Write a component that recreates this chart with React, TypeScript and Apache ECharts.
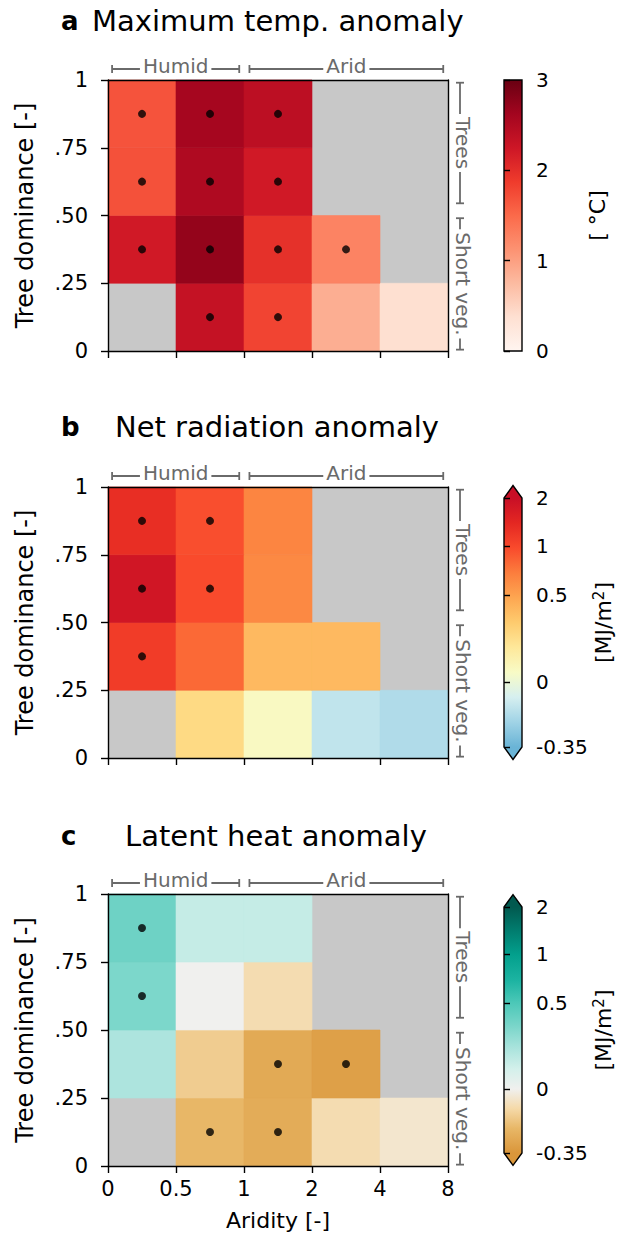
import React, { useEffect, useRef } from "react";
import * as echarts from "echarts";

// ---------- data ----------
const aridityLabels = ["0", "0.5", "1", "2", "4", "8"];
const treeLabels = ["0", ".25", ".50", ".75", "1"];

// rows bottom -> top (tree dominance 0-.25, .25-.50, .50-.75, .75-1), columns = aridity bins
const tmaxAnomaly = [
  [null, 2.33, 1.8, 0.87, 0.38],
  [2.22, 2.72, 1.98, 1.27, null],
  [1.7, 2.52, 2.22, null, null],
  [1.68, 2.6, 2.4, null, null],
];
const tmaxSignificant = [
  [0, 1, 1, 0, 0],
  [1, 1, 1, 1, 0],
  [1, 1, 1, 0, 0],
  [1, 1, 1, 0, 0],
];
const netRadAnomaly = [
  [null, 0.27, 0.07, -0.135, -0.175],
  [1.17, 0.83, 0.41, 0.41, null],
  [1.84, 0.98, 0.65, null, null],
  [1.38, 0.96, 0.68, null, null],
];
const netRadSignificant = [
  [0, 0, 0, 0, 0],
  [1, 0, 0, 0, 0],
  [1, 1, 0, 0, 0],
  [1, 1, 0, 0, 0],
];
const latentAnomaly = [
  [null, -0.215, -0.26, -0.094, -0.05],
  [0.23, -0.148, -0.27, -0.31, null],
  [0.36, 0.0, -0.094, null, null],
  [0.4, 0.157, 0.157, null, null],
];
const latentSignificant = [
  [0, 1, 1, 0, 0],
  [0, 0, 1, 1, 0],
  [1, 0, 0, 0, 0],
  [1, 0, 0, 0, 0],
];

const tmaxTicks = [0, 1, 2, 3];
const fluxTicks = [-0.35, 0, 0.5, 1, 2];
// colorbar norm anchors (value -> fraction along colorbar)
const fluxNormValues = [-0.35, 0, 0.5, 1, 2];
const fluxNormPos = [0, 0.26, 0.61, 0.807, 1];

const climateGroups = [
  { label: "Humid", from: 0.06, to: 1.93 },
  { label: "Arid", from: 2.08, to: 4.93 },
];
const vegGroups = [
  { label: "Trees", from: 0.545, to: 0.99 },
  { label: "Short veg.", from: 0.005, to: 0.49 },
];

// ---------- colormaps ----------
const redsStops: [number, string][] = [
  [0, "#fff5f0"], [0.125, "#fee0d2"], [0.25, "#fcbba1"], [0.375, "#fc9272"],
  [0.5, "#fb6a4a"], [0.625, "#ef3b2c"], [0.75, "#cd1626"], [0.875, "#a3051f"], [1, "#690012"],
];
const radStops: [number, string][] = [
  [0, "#6ab4d6"], [0.1, "#a0d3e6"], [0.2, "#d6eff0"], [0.3, "#f8fbc6"], [0.4, "#fee89a"],
  [0.5, "#fecb6e"], [0.6, "#fda651"], [0.7, "#fc7d3d"], [0.8, "#f94a2c"], [0.9, "#e42722"], [1, "#c80f26"],
];
const latStops: [number, string][] = [
  [0, "#da963a"], [0.1, "#e8b767"], [0.18, "#f5d9a8"], [0.26, "#f0f0ee"], [0.34, "#d4f0eb"],
  [0.43, "#a8e3dc"], [0.52, "#78d5c9"], [0.61, "#4cc8b8"], [0.7, "#1db4a2"], [0.805, "#03a08d"],
  [0.9, "#017e70"], [1, "#01594f"],
];

function hexToRgb(h: string) {
  const n = parseInt(h.slice(1), 16);
  return [(n >> 16) & 255, (n >> 8) & 255, n & 255];
}
function sampleCmap(stops: [number, string][], t: number) {
  t = Math.max(0, Math.min(1, t));
  for (let i = 0; i < stops.length - 1; i++) {
    const [a, ca] = stops[i];
    const [b, cb] = stops[i + 1];
    if (t >= a && t <= b) {
      const f = b === a ? 0 : (t - a) / (b - a);
      const A = hexToRgb(ca), B = hexToRgb(cb);
      const c = A.map((v, k) => Math.round(v + (B[k] - v) * f));
      return `rgb(${c[0]},${c[1]},${c[2]})`;
    }
  }
  return stops[stops.length - 1][1];
}
function cmapList(stops: [number, string][], n = 101) {
  return Array.from({ length: n }, (_, i) => sampleCmap(stops, i / (n - 1)));
}
function piecewise(xs: number[], ys: number[], v: number) {
  if (v <= xs[0]) return ys[0];
  for (let i = 0; i < xs.length - 1; i++) {
    if (v <= xs[i + 1]) return ys[i] + ((v - xs[i]) / (xs[i + 1] - xs[i])) * (ys[i + 1] - ys[i]);
  }
  return ys[ys.length - 1];
}
const tmaxNorm = (v: number) => Math.max(0, Math.min(1, v / 3));
const fluxNorm = (v: number) => piecewise(fluxNormValues, fluxNormPos, v);

const panels = [
  { letter: "a", title: "Maximum temp. anomaly", values: tmaxAnomaly, sig: tmaxSignificant, unit: "[ °C]", ticks: tmaxTicks, norm: tmaxNorm, stops: redsStops, extend: false },
  { letter: "b", title: "Net radiation anomaly", values: netRadAnomaly, sig: netRadSignificant, unit: "[MJ/m{sup|2}]", ticks: fluxTicks, norm: fluxNorm, stops: radStops, extend: true },
  { letter: "c", title: "Latent heat anomaly", values: latentAnomaly, sig: latentSignificant, unit: "[MJ/m{sup|2}]", ticks: fluxTicks, norm: fluxNorm, stops: latStops, extend: true },
];

// ---------- layout ----------
const FONT = "DejaVu Sans";
const PLOT_LEFT = 108;
const PLOT_W = 340;
const PLOT_TOPS = [80, 487, 894];
const PLOT_HS = [271, 271, 272];
const CB_LEFT = 504;
const CB_W = 18;
const CB_TOPS = [80, 498, 907];
const CB_HS = [271, 249, 246];
const TITLE_TOPS = [6, 412, 821];
const TITLE_LEFTS = [92, 115, 125];
const GREY = "#6a6a6a";

function buildOption() {
  const grid: any[] = [];
  const xAxis: any[] = [];
  const yAxis: any[] = [];
  const series: any[] = [];
  const visualMap: any[] = [];
  const title: any[] = [];
  const axisLineStyle = { color: "#000", width: 1.4 };

  panels.forEach((p, i) => {
    const last = i === panels.length - 1;
    grid.push({ left: PLOT_LEFT, top: PLOT_TOPS[i], width: PLOT_W, height: PLOT_HS[i], show: true, backgroundColor: "#c8c8c8", borderWidth: 0, outerBoundsMode: "none", containLabel: false });
    grid.push({ left: CB_LEFT, top: CB_TOPS[i], width: CB_W, height: CB_HS[i], show: false, outerBoundsMode: "none", containLabel: false });
    const gMain = 2 * i, gCb = 2 * i + 1;

    xAxis.push({
      type: "value", gridIndex: gMain, min: 0, max: 5, interval: 1, position: "bottom", z: 10,
      axisLine: { show: true, onZero: false, lineStyle: axisLineStyle },
      axisTick: { show: true, length: 7, lineStyle: axisLineStyle },
      axisLabel: { show: last, fontFamily: FONT, fontSize: 21, color: "#000", margin: 12, formatter: (v: number) => aridityLabels[Math.round(v)] },
      splitLine: { show: false },
      name: last ? "Aridity [-]" : "", nameLocation: "middle", nameGap: 43,
      nameTextStyle: { fontFamily: FONT, fontSize: 22, color: "#000" },
    });
    xAxis.push({
      type: "value", gridIndex: gMain, min: 0, max: 5, position: "top", z: 10,
      axisLine: { show: true, onZero: false, lineStyle: axisLineStyle },
      axisTick: { show: false }, axisLabel: { show: false }, splitLine: { show: false },
    });
    xAxis.push({ type: "value", gridIndex: gCb, min: 0, max: 1, show: false });

    yAxis.push({
      type: "value", gridIndex: gMain, min: 0, max: 1, interval: 0.25, position: "left", z: 10,
      axisLine: { show: true, onZero: false, lineStyle: axisLineStyle },
      axisTick: { show: true, length: 7, lineStyle: axisLineStyle },
      axisLabel: { fontFamily: FONT, fontSize: 21, color: "#000", margin: 20, formatter: (v: number) => treeLabels[Math.round(v * 4)] },
      splitLine: { show: false },
      name: "Tree dominance [-]", nameLocation: "middle", nameGap: 71, nameRotate: 90,
      nameTextStyle: { fontFamily: FONT, fontSize: 24, color: "#000" },
    });
    yAxis.push({
      type: "value", gridIndex: gMain, min: 0, max: 1, position: "right", z: 10,
      axisLine: { show: true, onZero: false, lineStyle: axisLineStyle },
      axisTick: { show: false }, axisLabel: { show: false }, splitLine: { show: false },
    });
    const tickPos = p.ticks.map((t) => p.norm(t));
    yAxis.push({
      type: "value", gridIndex: gCb, min: 0, max: 1, position: "right", z: 10,
      axisLine: { show: false },
      axisTick: { show: true, length: 6, lineStyle: axisLineStyle, customValues: tickPos },
      axisLabel: {
        show: true, fontFamily: FONT, fontSize: 20, color: "#000", margin: 14, customValues: tickPos,
        formatter: (v: number) => {
          const k = tickPos.findIndex((q) => Math.abs(q - v) < 1e-6);
          return k >= 0 ? String(p.ticks[k]) : "";
        },
      },
      splitLine: { show: false },
      name: p.unit, nameLocation: "middle", nameGap: 64, nameRotate: 90,
      nameTextStyle: {
        fontFamily: FONT, fontSize: 22, color: "#000",
        rich: { sup: { fontFamily: FONT, fontSize: 15, color: "#000", verticalAlign: "top", padding: [0, 0, 9, 0] } },
      },
    });

    // heat cells
    const cells: any[] = [];
    const dots: any[] = [];
    p.values.forEach((row, r) => {
      row.forEach((v, c) => {
        if (v === null) return;
        cells.push([c, c + 1, r * 0.25, (r + 1) * 0.25, v, p.norm(v)]);
        if (p.sig[r][c]) dots.push([c + 0.5, r * 0.25 + 0.125]);
      });
    });
    const heatIndex = series.length;
    series.push({
      type: "custom", xAxisIndex: 3 * i, yAxisIndex: 3 * i, z: 2,
      data: cells,
      renderItem: (params: any, api: any) => {
        const p0 = api.coord([api.value(0), api.value(3)]);
        const p1 = api.coord([api.value(1), api.value(2)]);
        const col = api.visual("color");
        return {
          type: "rect",
          shape: { x: p0[0], y: p0[1], width: p1[0] - p0[0], height: p1[1] - p0[1] },
          style: { fill: col, stroke: col, lineWidth: 0.6 },
        };
      },
    });
    visualMap.push({
      type: "continuous", show: false, seriesIndex: heatIndex, dimension: 5, min: 0, max: 1,
      inRange: { color: cmapList(p.stops) },
    });
    series.push({
      type: "scatter", xAxisIndex: 3 * i, yAxisIndex: 3 * i, z: 4,
      symbol: "circle", symbolSize: 8, itemStyle: { color: "#000" }, silent: true,
      data: dots,
    });
    // colorbar
    const stops = p.stops;
    const extend = p.extend;
    series.push({
      type: "custom", xAxisIndex: 3 * i + 2, yAxisIndex: 3 * i + 2, z: 2, silent: true,
      data: [[0, 0]],
      renderItem: (params: any, api: any) => {
        const bl = api.coord([0, 0]);
        const tr = api.coord([1, 1]);
        const x0 = bl[0], x1 = tr[0], yb = bl[1], yt = tr[1];
        const h = yb - yt, xm = (x0 + x1) / 2, ext = h * 0.05;
        const grad = { type: "linear", x: 0, y: 1, x2: 0, y2: 0, colorStops: stops.map(([o, c]) => ({ offset: o, color: c })) };
        const children: any[] = [
          { type: "rect", shape: { x: x0, y: yt, width: x1 - x0, height: h }, style: { fill: grad } },
        ];
        if (extend) {
          children.push({ type: "polygon", shape: { points: [[x0, yt], [xm, yt - ext], [x1, yt]] }, style: { fill: stops[stops.length - 1][1] } });
          children.push({ type: "polygon", shape: { points: [[x0, yb], [xm, yb + ext], [x1, yb]] }, style: { fill: stops[0][1] } });
          children.push({ type: "polygon", shape: { points: [[x0, yb], [x0, yt], [xm, yt - ext], [x1, yt], [x1, yb], [xm, yb + ext]] }, style: { fill: "none", stroke: "#000", lineWidth: 1.4 } });
        } else {
          children.push({ type: "rect", shape: { x: x0, y: yt, width: x1 - x0, height: h }, style: { fill: "none", stroke: "#000", lineWidth: 1.4 } });
        }
        return { type: "group", children };
      },
    });

    title.push({ text: p.letter, left: 61, top: TITLE_TOPS[i] + 2, padding: 0, textStyle: { fontFamily: FONT, fontSize: 26, fontWeight: "bold", color: "#000" } });
    title.push({ text: p.title, left: TITLE_LEFTS[i], top: TITLE_TOPS[i], padding: 0, textStyle: { fontFamily: FONT, fontSize: 29, fontWeight: "normal", color: "#000" } });
  });

  return { animation: false, backgroundColor: "#fff", textStyle: { fontFamily: FONT }, title, grid, xAxis, yAxis, series, visualMap };
}

function buildBrackets(chart: any) {
  const els: any[] = [];
  panels.forEach((p, i) => {
    const g = { gridIndex: 2 * i };
    const top = chart.convertToPixel(g, [0, 1]);
    const right = chart.convertToPixel(g, [5, 1]);
    const y = top[1] - 11;
    climateGroups.forEach((cg) => {
      const x1 = chart.convertToPixel(g, [cg.from, 1])[0];
      const x2 = chart.convertToPixel(g, [cg.to, 1])[0];
      els.push({ type: "line", shape: { x1, y1: y, x2, y2: y }, style: { stroke: GREY, lineWidth: 1.8 }, z: 20 });
      els.push({ type: "line", shape: { x1, y1: y - 4, x2: x1, y2: y + 4 }, style: { stroke: GREY, lineWidth: 1.8 }, z: 20 });
      els.push({ type: "line", shape: { x1: x2, y1: y - 4, x2, y2: y + 4 }, style: { stroke: GREY, lineWidth: 1.8 }, z: 20 });
      els.push({
        type: "text", x: (x1 + x2) / 2, y: y - 3, z: 21,
        style: { text: cg.label, fontFamily: FONT, fontSize: 20, fill: GREY, align: "center", verticalAlign: "middle", backgroundColor: "#fff", padding: [0, 3] },
      });
    });
    const x = right[0] + 12;
    vegGroups.forEach((vg) => {
      const y1 = chart.convertToPixel(g, [5, vg.to])[1];
      const y2 = chart.convertToPixel(g, [5, vg.from])[1];
      els.push({ type: "line", shape: { x1: x, y1, x2: x, y2 }, style: { stroke: GREY, lineWidth: 1.8 }, z: 20 });
      els.push({ type: "line", shape: { x1: x - 4, y1, x2: x + 4, y2: y1 }, style: { stroke: GREY, lineWidth: 1.8 }, z: 20 });
      els.push({ type: "line", shape: { x1: x - 4, y1: y2, x2: x + 4, y2 }, style: { stroke: GREY, lineWidth: 1.8 }, z: 20 });
      els.push({
        type: "text", x: x + 3, y: (y1 + y2) / 2, rotation: -Math.PI / 2, z: 21,
        style: { text: vg.label, fontFamily: FONT, fontSize: 20, fill: GREY, align: "center", verticalAlign: "middle", backgroundColor: "#fff", padding: [0, 3] },
      });
    });
  });
  return els;
}

export default function App() {
  const ref = useRef<HTMLDivElement>(null);
  useEffect(() => {
    if (!ref.current) return;
    const chart = echarts.init(ref.current, null, { renderer: "svg" });
    chart.setOption(buildOption() as any);
    chart.setOption({ graphic: buildBrackets(chart) } as any);
    return () => chart.dispose();
  }, []);
  return <div ref={ref} style={{ position: "absolute", left: 0, top: 0, width: 622, height: 1242 }} />;
}
